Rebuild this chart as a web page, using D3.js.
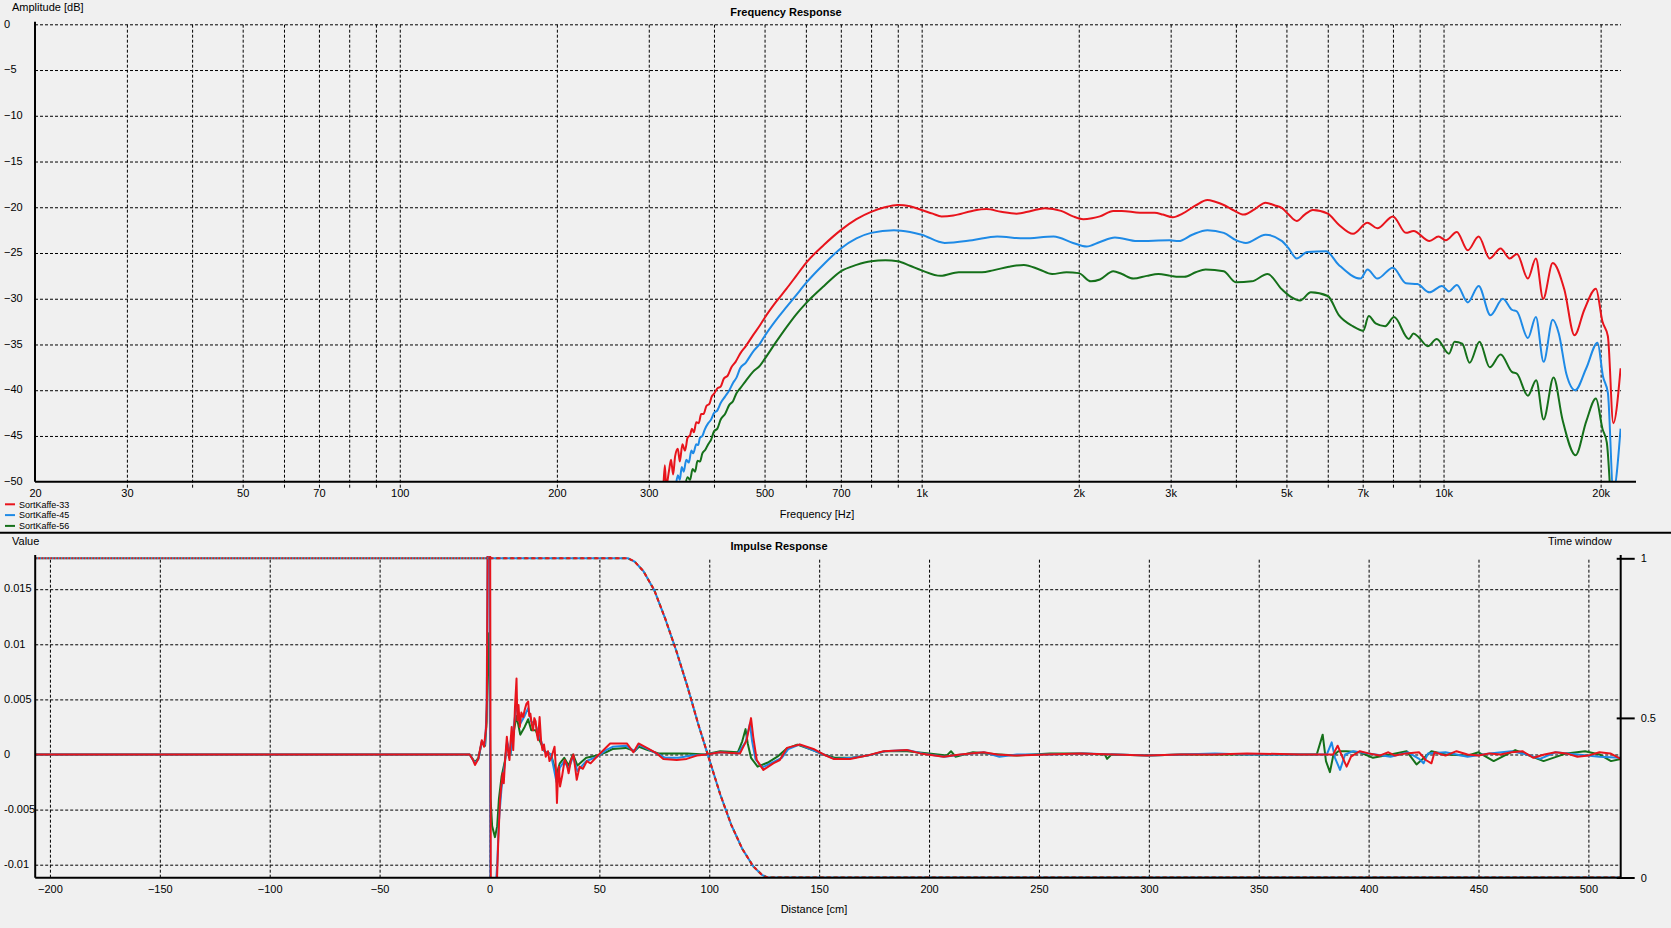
<!DOCTYPE html>
<html><head><meta charset="utf-8">
<script src="https://cdn.jsdelivr.net/npm/d3@7"></script>
<style>
html,body{margin:0;padding:0;background:#f0f0f0;overflow:hidden;}
svg{display:block;font-family:"Liberation Sans",Arial,sans-serif;}
</style></head><body>
<svg id="c" width="1671" height="928"></svg>
<script>
// ---------------- DATA ----------------
const seriesNames = ["SortKaffe-33", "SortKaffe-45", "SortKaffe-56"];
const seriesColors = ["#e8141c", "#1e8ae6", "#15701a"];

const freqTickValues = [20, 30, 50, 70, 100, 200, 300, 500, 700, 1000, 2000, 3000, 5000, 7000, 10000, 20000];
const freqTickLabels = ["20", "30", "50", "70", "100", "200", "300", "500", "700", "1k", "2k", "3k", "5k", "7k", "10k", "20k"];
const freqGridValues = [30, 40, 50, 60, 70, 80, 90, 100, 200, 300, 400, 500, 600, 700, 800, 900, 1000,
  2000, 3000, 4000, 5000, 6000, 7000, 8000, 9000, 10000, 20000];
const ampTicks = [0, -5, -10, -15, -20, -25, -30, -35, -40, -45, -50];

// frequency response [Hz, dB]
const frRed = [[320,-50.5],[322,-48.2],[324,-50.5],[328,-48.8],[331,-47.6],[334,-49.2],[337,-47.2],[341,-46.4],[344,-47.8],[348,-45.9],[352,-46.6],[356,-45.2],[360,-44.9],[363,-44.2],[366,-44.6],[370,-43.5],[374,-43.6],[378,-42.6],[382,-42.6],[387,-41.7],[392,-41.5],[396,-40.7],[400,-40.4],[406,-39.8],[412,-39.6],[418,-38.7],[425,-38.4],[432,-37.5],[440,-36.9],[449,-36.0],[460,-35.2],[475,-34.0],[490,-32.9],[500,-32.1],[525,-30.4],[551,-28.9],[575,-27.5],[600,-26.1],[650,-24.1],[700,-22.5],[750,-21.3],[800,-20.5],[850,-20.0],[900,-19.75],[950,-19.9],[1000,-20.3],[1050,-20.7],[1092,-21.0],[1150,-20.9],[1250,-20.4],[1331,-20.2],[1420,-20.5],[1520,-20.7],[1620,-20.4],[1722,-20.1],[1850,-20.4],[1950,-21.0],[2040,-21.3],[2120,-21.2],[2196,-21.0],[2329,-20.4],[2418,-20.4],[2620,-20.6],[2795,-20.6],[2900,-20.8],[3028,-21.1],[3161,-20.7],[3350,-19.8],[3528,-19.2],[3650,-19.4],[3792,-19.75],[3950,-20.3],[4143,-20.8],[4350,-20.2],[4561,-19.5],[4750,-19.8],[4905,-20.1],[5050,-20.8],[5232,-21.5],[5420,-20.8],[5620,-20.3],[6000,-20.7],[6300,-21.9],[6709,-22.9],[7150,-21.7],[7466,-22.3],[8000,-21.0],[8471,-22.8],[8760,-22.6],[9400,-23.7],[9781,-23.2],[10101,-23.6],[10604,-22.7],[11130,-24.7],[11676,-23.2],[12260,-25.6],[12864,-24.5],[13390,-25.6],[13825,-25.1],[14510,-27.8],[15030,-25.6],[15520,-30.0],[16190,-26.1],[17040,-29.0],[17820,-34.0],[18610,-31.2],[19590,-28.9],[20160,-32.5],[20650,-34.1],[21150,-43.6],[21840,-37.6]];

const frBlue = [[338,-50.5],[341,-49.3],[344,-49.8],[347,-48.4],[350,-48.9],[354,-47.6],[358,-47.9],[362,-46.6],[365,-46.9],[370,-45.9],[373,-46.0],[376,-45.2],[380,-45.0],[384,-44.3],[390,-43.6],[395,-43.2],[400,-42.5],[406,-42.2],[412,-41.4],[420,-40.7],[428,-40.0],[435,-39.2],[442,-38.6],[449,-37.6],[460,-37.0],[475,-35.8],[490,-34.9],[500,-34.1],[525,-32.4],[551,-30.9],[575,-29.6],[600,-28.3],[650,-26.2],[700,-24.5],[750,-23.4],[800,-22.8],[885,-22.5],[950,-22.7],[1000,-23.0],[1107,-23.9],[1250,-23.6],[1395,-23.2],[1570,-23.4],[1790,-23.2],[1950,-23.9],[2070,-24.3],[2196,-23.8],[2346,-23.3],[2587,-23.7],[2985,-23.6],[3108,-23.7],[3300,-23.0],[3528,-22.5],[3792,-22.8],[4000,-23.6],[4180,-23.9],[4561,-23.0],[4905,-23.7],[5050,-24.5],[5232,-25.6],[5480,-24.9],[5950,-24.8],[6300,-26.3],[6935,-27.8],[7150,-26.8],[7466,-27.8],[8000,-26.6],[8471,-28.3],[8910,-28.4],[9400,-29.3],[9930,-28.6],[10240,-29.2],[10604,-28.5],[11130,-30.4],[11676,-28.6],[12300,-31.8],[12990,-30.0],[13520,-31.2],[13825,-31.4],[14510,-34.3],[15030,-32.0],[15550,-36.9],[16190,-32.3],[16630,-33.8],[17190,-38.2],[17880,-40.0],[18770,-37.6],[19730,-34.8],[20210,-38.5],[20650,-40.3],[21150,-51],[21840,-44.2]];

const frGreen = [[352,-50.5],[356,-49.5],[360,-49.8],[364,-48.6],[368,-48.9],[372,-47.7],[376,-47.8],[380,-46.9],[385,-46.5],[390,-45.9],[395,-45.4],[400,-44.5],[406,-44.2],[412,-43.2],[420,-42.6],[428,-41.6],[435,-41.2],[442,-40.3],[449,-39.8],[460,-39.0],[475,-38.0],[490,-37.3],[500,-36.6],[525,-34.8],[551,-33.1],[575,-31.7],[600,-30.5],[650,-28.6],[700,-27.0],[750,-26.3],[800,-25.9],[852,-25.8],[900,-25.9],[950,-26.4],[1000,-26.9],[1087,-27.5],[1178,-27.1],[1305,-27.1],[1370,-26.9],[1470,-26.5],[1570,-26.3],[1680,-26.8],[1778,-27.3],[1895,-27.1],[2000,-27.2],[2110,-28.1],[2196,-27.9],[2329,-27.0],[2420,-27.3],[2545,-27.8],[2700,-27.5],[2843,-27.3],[3000,-27.5],[3108,-27.6],[3187,-27.6],[3350,-27.1],[3500,-26.8],[3792,-27.0],[4000,-28.2],[4290,-28.1],[4600,-27.3],[4905,-29.0],[5100,-29.8],[5310,-30.2],[5570,-29.3],[6000,-29.7],[6300,-31.8],[6700,-33.0],[7015,-33.5],[7190,-31.9],[7410,-32.7],[7730,-33.0],[8040,-32.0],[8580,-34.4],[8760,-33.8],[8960,-34.2],[9330,-35.2],[9705,-34.4],[10240,-36.0],[10500,-34.7],[10860,-34.9],[11220,-37.0],[11720,-34.7],[12260,-37.5],[12864,-36.1],[13520,-38.0],[13825,-38.2],[14510,-40.6],[15050,-38.9],[15550,-43.2],[16250,-38.6],[16900,-43.2],[17910,-47.1],[18770,-43.4],[19590,-40.9],[20160,-44.2],[20550,-45.7],[20860,-51]];

const distTicks = [-200, -150, -100, -50, 0, 50, 100, 150, 200, 250, 300, 350, 400, 450, 500];
const valueTicks = [0.015, 0.01, 0.005, 0, -0.005, -0.01];
const valueTickLabels = ["0.015", "0.01", "0.005", "0", "-0.005", "-0.01"];
const windowTicks = [1, 0.5, 0];
const windowTickLabels = ["1", "0.5", "0"];

// impulse response [cm, value]
const irRed = [[-206.7,0],[-9,0],[-7.5,-0.0005],[-6.6,-0.00095],[-5.1,-0.0004],[-3.5,0.0013],[-2.5,0.0007],[-1.5,0.0025],[-1.2,0.005],[-0.8,0.02],[-0.2,0.02],[0.3,0.02],[0.6,-0.013],[2.5,-0.013],[3.3,-0.012],[4,-0.0078],[4.8,-0.0041],[5.4,-0.0028],[6,-0.0017],[6.5,-0.0026],[7.1,-0.0005],[7.9,0.0016],[8.5,0.0002],[9.1,-0.0005],[9.6,0.0012],[10.1,0.0025],[10.8,0.0004],[11.2,0.0021],[11.6,0.0043],[12.3,0.0069],[12.7,0.0031],[13.2,0.0045],[13.8,0.0025],[14.5,0.0038],[15.3,0.0034],[16.1,0.0041],[16.8,0.0046],[17.6,0.0048],[18.1,0.0035],[18.6,0.0037],[19.2,0.0028],[19.8,0.0022],[20.4,0.0033],[21,0.003],[21.6,0.0018],[22.1,0.0013],[22.8,0.0034],[23.5,0.0012],[24.1,0.0004],[24.8,0.0009],[25.6,-0.0002],[26.6,0.0003],[27.3,-0.0006],[28.1,-0.0003],[29.6,0.0007],[30.2,-0.0012],[30.7,-0.0044],[31.2,-0.0018],[31.6,-0.0011],[32.1,-0.0029],[33,-0.002],[34.2,-0.0005],[35.2,-0.0009],[36,-0.0017],[37,-0.0006],[38.2,0.0],[39,-0.0012],[39.7,-0.0023],[41,-0.0011],[42.5,-0.0013],[44.3,-0.0006],[46,-0.0008],[48.8,-0.0002],[51.9,0.0004],[54.9,0.001],[62.5,0.001],[65.5,0.0002],[67.8,0.001],[71.6,0.0006],[76.1,0.0001],[79.1,-0.0004],[85.2,-0.0005],[89.7,-0.0004],[94.3,-0.0001],[98.8,0],[104.9,0.0002],[114,0.0001],[117,0.0013],[119,0.0033],[120,0.0016],[121.6,-0.0005],[124.6,-0.0014],[129.1,-0.0008],[132.1,-0.0005],[135.3,0.0006],[141.2,0.0009],[147.4,0.0005],[152,0],[156.5,-0.0004],[164.1,-0.0004],[171.7,-0.0001],[179.3,0.0003],[189.9,0.0004],[196,0.0001],[206.6,-0.0002],[214.2,0],[224.8,0.0002],[230.9,0],[238.5,-0.0001],[253.7,0],[268.8,0.0001],[284,0],[299.2,-0.0001],[314.3,0],[329.5,0],[344.7,0.0001],[368.9,0],[383.9,0],[385.9,0.0008],[388,-0.0002],[390,-0.0011],[392,-0.0002],[396,0.0003],[400,0.0001],[405,-0.0001],[409,0.0002],[412,-0.0001],[417,0.0001],[423,0.0002],[426,-0.0005],[428.6,-0.0008],[430,0.0002],[435,-0.0001],[440,0.0003],[445,0],[450,-0.0001],[455,0.0001],[460,0],[465,0.0002],[470,0.0003],[475,-0.0003],[480,0],[485,0.0002],[490,0.0001],[495,-0.0002],[500,-0.0001],[505,0.0002],[510,0.0001],[514.7,-0.0004]];

const irBlue = [[-206.7,0],[-9,0],[-6.6,-0.0008],[-5,-0.0004],[-3.5,0.0012],[-2,0.0009],[-1.3,0.004],[-0.8,0.02],[0,0.02],[0.4,-0.013],[2.5,-0.013],[3.5,-0.01],[4.3,-0.006],[5.5,-0.003],[7,-0.0008],[8,0.0012],[9.5,0.0],[11,0.0025],[12.3,0.0045],[14,0.0028],[16,0.0035],[17.6,0.0042],[19,0.003],[21,0.0027],[23,0.0015],[25,0.0003],[28,0],[30.5,-0.0025],[32,-0.0012],[34,-0.0006],[36,-0.0013],[38,-0.0002],[40,-0.0015],[44,-0.0006],[49,-0.0002],[53,0.0004],[56,0.0007],[62,0.0008],[66,0.0003],[68,0.0009],[72,0.0005],[77,0],[80,-0.0003],[86,-0.0003],[92,-0.0001],[98,0],[105,0.0002],[113,0.0001],[116.5,0.0011],[118.5,0.0028],[119.5,0.0012],[121,-0.0004],[124,-0.0012],[129,-0.0007],[133,-0.0003],[136,0.0005],[141,0.0009],[147,0.0004],[152,0.0],[157,-0.0004],[165,-0.0003],[172,-0.0001],[180,0.0003],[190,0.0004],[197,0.0001],[207,-0.0002],[215,0],[225,0.0002],[232,-0.0002],[240,0],[255,0],[270,0.0001],[285,0],[300,-0.0001],[315,0],[330,0.0001],[345,0],[370,0],[381,0],[383.2,0.0011],[384.7,-0.0003],[387,-0.0014],[389.3,0],[393,0.0003],[400,0.0001],[410,-0.0002],[418,0.0002],[423,-0.0004],[425,-0.0008],[427,0.0001],[435,0.0002],[445,-0.0002],[455,0.0001],[465,0.0003],[472,0],[478,-0.0004],[485,0.0002],[495,0],[505,-0.0002],[514.7,-0.0003]];

const irGreen = [[-206.7,0],[-9,0],[-6.6,-0.0007],[-5,-0.0003],[-3.5,0.0011],[-2,0.0008],[-1.3,0.003],[-0.8,0.008],[-0.3,0.011],[0,0.008],[0.5,-0.004],[1.2,-0.0065],[2.5,-0.0075],[3.5,-0.0065],[4.3,-0.004],[5.5,-0.002],[7,-0.0006],[8,0.001],[9.5,0.0],[11,0.002],[12.3,0.0035],[14,0.0018],[16,0.0025],[17.6,0.0032],[19,0.0022],[21,0.0022],[23,0.0012],[25,0.0003],[28,0],[30.5,-0.0018],[32,-0.0008],[34,-0.0003],[36,-0.001],[38,0],[40,-0.001],[44,-0.0003],[49,-0.0001],[53,0.0002],[56,0.0005],[62,0.0006],[66,0.0003],[68,0.0007],[72,0.0004],[77,0.0001],[82,0.0001],[90,0.0001],[98,0],[105,0.0003],[113,0.0002],[115,0.0012],[116.5,0.0023],[117.5,0.001],[119,-0.0003],[122,-0.0011],[127,-0.0007],[131,-0.0002],[135,0.0005],[140,0.0009],[147,0.0004],[152,0],[157,-0.0003],[165,-0.0003],[172,-0.0001],[180,0.0003],[190,0.0003],[200,0.0001],[208,-0.0001],[210,0.0003],[212,-0.0002],[220,0.0002],[232,0],[240,-0.0001],[255,0.0001],[270,0.0001],[280,0],[281,-0.0004],[283,0],[300,-0.0001],[315,0],[330,0],[345,0],[376.4,0],[379.1,0.0018],[380.6,-0.0006],[382.4,-0.0016],[383.9,-0.0001],[386.2,0.0003],[390,0.0003],[396,0.0002],[402,-0.0003],[410,0],[417.3,0.0003],[421.8,-0.0009],[428.6,0.0003],[435,0],[445,-0.0001],[450,0.0002],[456.9,-0.0006],[466.7,0.0004],[472,0],[479.6,-0.0006],[490,0.0001],[498.5,0.0003],[505,0],[510.3,-0.0006],[514.7,-0.0004]];

// time window [cm, weight]
const winDist  = [-206.7, 0, 63, 66, 70, 75, 80, 85, 90, 95, 100, 105, 110, 115, 120, 124, 126.5, 514.7];
const winValue = [1, 1, 1, 0.99, 0.96, 0.9, 0.81, 0.71, 0.6, 0.48, 0.37, 0.26, 0.165, 0.09, 0.035, 0.008, 0, 0];

// ---------------- DRAW ----------------
const svg = d3.select("#c");
const FONT = 11;
const FF = "Liberation Sans, Arial, sans-serif";
svg.append("rect").attr("width", 1671).attr("height", 928).attr("fill", "#f0f0f0");

// ===== Top chart =====
const T = {l: 35, r: 1621, t: 24.3, b: 481.7};
const xF = d3.scaleLog().domain([20, 21880]).range([T.l, T.r]);
const yF = d3.scaleLinear().domain([-50, 0]).range([T.b, T.t]);

const gTop = svg.append("g");
const vgrid = gTop.append("g").attr("transform", `translate(0,${T.b})`)
  .call(d3.axisBottom(xF).tickValues(freqGridValues).tickSize(-(T.b - T.t)).tickFormat(""));
vgrid.select(".domain").remove();
vgrid.selectAll(".tick line").attr("stroke", "#000").attr("stroke-dasharray", "3,2").attr("y1", 6);
const hgrid = gTop.append("g").attr("transform", `translate(${T.l},0)`)
  .call(d3.axisLeft(yF).tickValues(ampTicks.filter(d => d > -50)).tickSize(-(T.r - T.l)).tickFormat(""));
hgrid.select(".domain").remove();
hgrid.selectAll(".tick line").attr("stroke", "#000").attr("stroke-dasharray", "3,2");

svg.append("clipPath").attr("id", "clipTop").append("rect")
  .attr("x", T.l).attr("y", T.t - 3).attr("width", T.r - T.l).attr("height", T.b - T.t + 3);

const lineF = d3.line().x(d => xF(d[0])).y(d => yF(d[1])).curve(d3.curveMonotoneX);
const frSeries = [frGreen, frBlue, frRed];
const drawColors = [seriesColors[2], seriesColors[1], seriesColors[0]];
const gF = gTop.append("g").attr("clip-path", "url(#clipTop)");
frSeries.forEach((s, i) => {
  gF.append("path").datum(s).attr("d", lineF).attr("fill", "none")
    .attr("stroke", drawColors[i]).attr("stroke-width", 2).attr("stroke-linejoin", "round");
});

gTop.append("line").attr("x1", T.l).attr("x2", 1636).attr("y1", T.b).attr("y2", T.b)
  .attr("stroke", "#000").attr("stroke-width", 2);
gTop.append("line").attr("x1", T.l).attr("x2", T.l).attr("y1", 21.7).attr("y2", T.b)
  .attr("stroke", "#000").attr("stroke-width", 2);

const xl = gTop.append("g").attr("transform", `translate(0,${T.b})`)
  .call(d3.axisBottom(xF).tickValues(freqTickValues).tickFormat((d, i) => freqTickLabels[i]).tickSize(0).tickPadding(8));
xl.select(".domain").remove();
xl.selectAll("text").attr("font-size", FONT).attr("fill", "#000").attr("font-family", FF);
const yl = gTop.append("g").attr("transform", `translate(${T.l},0)`)
  .call(d3.axisLeft(yF).tickValues(ampTicks).tickFormat(d => d3.format("d")(d)).tickSize(0));
yl.select(".domain").remove();
yl.selectAll("text").attr("font-size", FONT).attr("fill", "#000").attr("text-anchor", "start")
  .attr("x", 4 - T.l).attr("dy", "0.25em").attr("font-family", FF);

gTop.append("text").attr("x", 786).attr("y", 16).attr("text-anchor", "middle")
  .attr("font-size", FONT).attr("font-weight", "bold").text("Frequency Response");
gTop.append("text").attr("x", 12).attr("y", 11).attr("font-size", FONT).text("Amplitude [dB]");
gTop.append("text").attr("x", 817).attr("y", 518).attr("text-anchor", "middle")
  .attr("font-size", FONT).text("Frequency [Hz]");

const leg = svg.append("g");
seriesNames.forEach((n, i) => {
  const y = 504.3 + i * 10.8;
  leg.append("line").attr("x1", 5).attr("x2", 15).attr("y1", y).attr("y2", y)
    .attr("stroke", seriesColors[i]).attr("stroke-width", 2);
  leg.append("text").attr("x", 19).attr("y", y + 3.3).attr("font-size", 9).text(n);
});

svg.append("line").attr("x1", 0).attr("x2", 1671).attr("y1", 532.7).attr("y2", 532.7)
  .attr("stroke", "#000").attr("stroke-width", 2);

// ===== Bottom chart =====
const B = {l: 35.2, r: 1620.7, t: 558, b: 877.7};
const xI = d3.scaleLinear().domain([-206.7, 514.7]).range([B.l, B.r]);
const yI = d3.scaleLinear().domain([-0.01118, 0.01783]).range([B.b, B.t]);
const yW = d3.scaleLinear().domain([0, 1]).range([877.5, 558.3]);

const gBot = svg.append("g");
const bv = gBot.append("g").attr("transform", `translate(0,${B.b})`)
  .call(d3.axisBottom(xI).tickValues(distTicks).tickSize(-(B.b - B.t)).tickFormat(""));
bv.select(".domain").remove();
bv.selectAll(".tick line").attr("stroke", "#000").attr("stroke-dasharray", "3,2");
const bh = gBot.append("g").attr("transform", `translate(${B.l},0)`)
  .call(d3.axisLeft(yI).tickValues(valueTicks).tickSize(-(B.r - B.l)).tickFormat(""));
bh.select(".domain").remove();
bh.selectAll(".tick line").attr("stroke", "#000").attr("stroke-dasharray", "3,2");

svg.append("clipPath").attr("id", "clipBot").append("rect")
  .attr("x", B.l).attr("y", B.t - 2).attr("width", B.r - B.l).attr("height", B.b - B.t + 2);

const gI = gBot.append("g").attr("clip-path", "url(#clipBot)");
const lineI = d3.line().x(d => xI(d[0])).y(d => yI(d[1]));
[irGreen, irBlue, irRed].forEach((s, i) => {
  gI.append("path").datum(s).attr("d", lineI).attr("fill", "none")
    .attr("stroke", drawColors[i]).attr("stroke-width", 2).attr("stroke-linejoin", "round");
});

const winPts = winDist.map((d, i) => [d, winValue[i]]);
const leftWin = winPts.filter(p => p[0] <= 0);
const rightWin = winPts.filter(p => p[0] >= 0);
const lineW = d3.line().x(d => xI(d[0])).y(d => yW(d[1]));
[[seriesColors[2], 8], [seriesColors[1], 4], [seriesColors[0], 0]].forEach(([c, off]) => {
  gI.append("path").datum(leftWin).attr("d", lineW).attr("fill", "none")
    .attr("stroke", c).attr("stroke-width", 2).attr("stroke-dasharray", "1.5,1.5").attr("stroke-dashoffset", off / 4);
  gI.append("path").datum(rightWin).attr("d", lineW).attr("fill", "none")
    .attr("stroke", c).attr("stroke-width", 2).attr("stroke-dasharray", "4,3").attr("stroke-dashoffset", off);
});

gBot.append("line").attr("x1", B.l).attr("x2", B.r).attr("y1", B.b).attr("y2", B.b)
  .attr("stroke", "#000").attr("stroke-width", 2);
gBot.append("line").attr("x1", B.l).attr("x2", B.l).attr("y1", 555).attr("y2", B.b)
  .attr("stroke", "#000").attr("stroke-width", 2);
gBot.append("line").attr("x1", B.r).attr("x2", B.r).attr("y1", 555).attr("y2", B.b)
  .attr("stroke", "#000").attr("stroke-width", 2);

const bxl = gBot.append("g").attr("transform", `translate(0,${B.b})`)
  .call(d3.axisBottom(xI).tickValues(distTicks).tickFormat(d => d3.format("d")(d)).tickSize(0).tickPadding(8));
bxl.select(".domain").remove();
bxl.selectAll("text").attr("font-size", FONT).attr("fill", "#000").attr("font-family", FF);

const byl = gBot.append("g").attr("transform", `translate(${B.l},0)`)
  .call(d3.axisLeft(yI).tickValues(valueTicks).tickFormat((d, i) => valueTickLabels[i]).tickSize(0));
byl.select(".domain").remove();
byl.selectAll("text").attr("font-size", FONT).attr("fill", "#000").attr("text-anchor", "start")
  .attr("x", 4 - B.l).attr("dy", "0.25em").attr("font-family", FF);

const wr = gBot.append("g").attr("transform", `translate(${B.r},0)`)
  .call(d3.axisRight(yW).tickValues(windowTicks).tickFormat((d, i) => windowTickLabels[i]).tickSize(14).tickPadding(6));
wr.select(".domain").remove();
wr.selectAll(".tick line").attr("x1", -4).attr("stroke", "#000").attr("stroke-width", 2);
wr.selectAll("text").attr("font-size", FONT).attr("fill", "#000").attr("font-family", FF);

gBot.append("text").attr("x", 779).attr("y", 550).attr("text-anchor", "middle")
  .attr("font-size", FONT).attr("font-weight", "bold").text("Impulse Response");
gBot.append("text").attr("x", 12).attr("y", 545).attr("font-size", FONT).text("Value");
gBot.append("text").attr("x", 1548).attr("y", 545).attr("font-size", FONT).text("Time window");
gBot.append("text").attr("x", 814).attr("y", 913).attr("text-anchor", "middle")
  .attr("font-size", FONT).text("Distance [cm]");
</script>
</body></html>
